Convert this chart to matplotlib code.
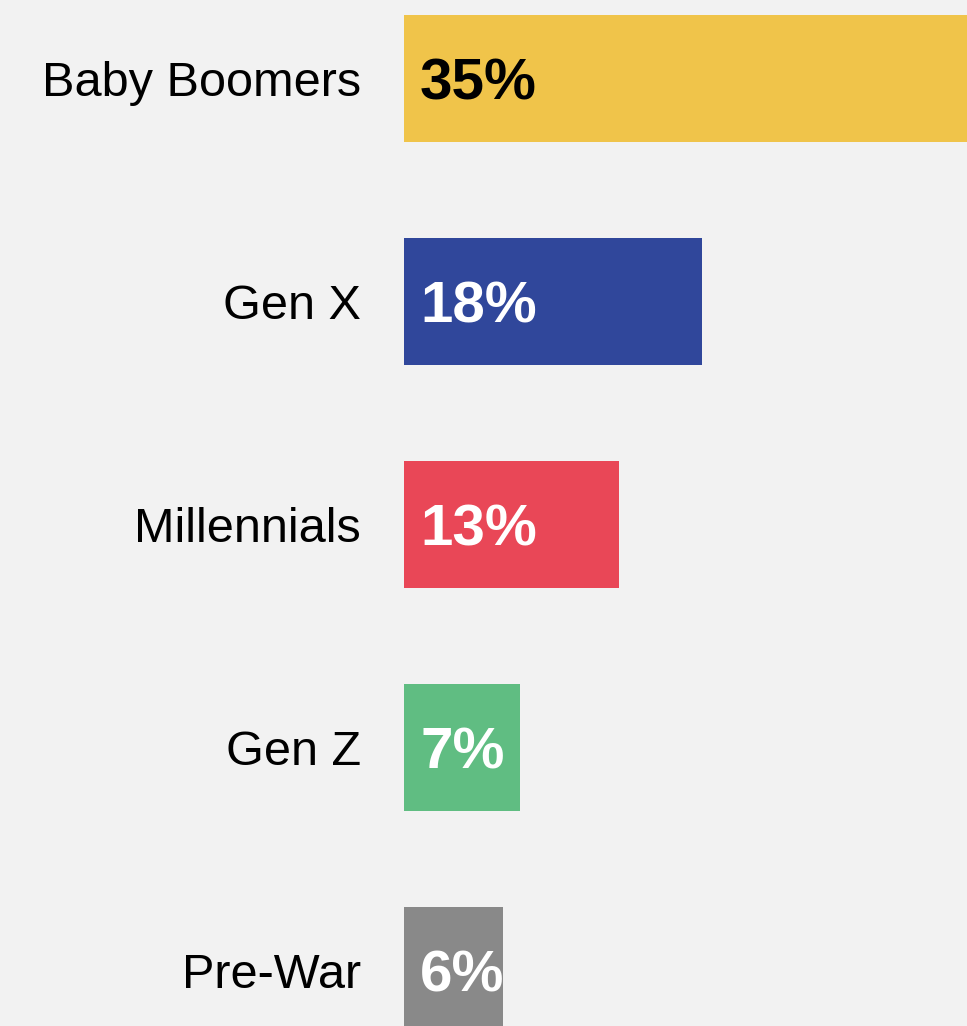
import matplotlib
matplotlib.use("Agg")
import matplotlib.pyplot as plt

# data
generations = ["Baby Boomers", "Gen X", "Millennials", "Gen Z", "Pre-War"]
shares = [35, 18, 13, 7, 6]
colors = ["#f0c44a", "#30479b", "#e94757", "#60bd82", "#898989"]
label_colors = ["black", "white", "white", "white", "white"]

W, H = 967, 1026
fig = plt.figure(figsize=(W / 100, H / 100), dpi=100, facecolor="#f2f2f2")
ax = fig.add_axes([404 / W, 0, 1 - 404 / W, 1])
ax.set_facecolor("#f2f2f2")

pos = list(range(len(generations)))
ax.barh(pos, shares, height=0.57, color=colors)

# value labels sit inside the bar, baseline nudged so digits look centred
for p, v, c in zip(pos, shares, label_colors):
    ax.text(0.97, p + 0.094, f"{v}%", color=c, fontsize=42, fontweight="bold",
            family="Liberation Sans", va="baseline", ha="left")

ax.set_xlim(0, 34.0)
ax.set_ylim(4.249, -0.352)
ax.set_yticks(pos)
ax.set_yticklabels(generations, fontsize=35, family="Liberation Sans")
ax.tick_params(axis="y", length=0, pad=31)
ax.set_xticks([])
for s in ax.spines.values():
    s.set_visible(False)

fig.savefig("out.png", dpi=100, facecolor=fig.get_facecolor())
